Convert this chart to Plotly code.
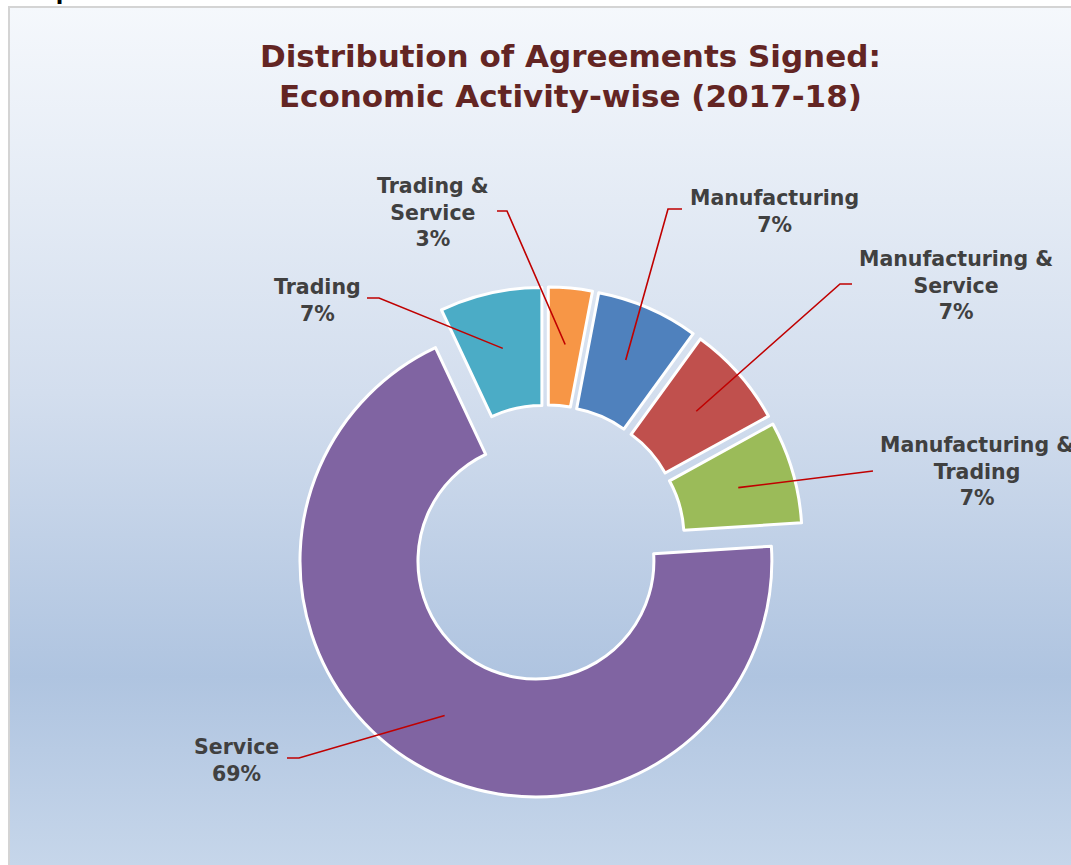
import base64
import math
import plotly.graph_objects as go

# ---------------- data ----------------
categories = ["Trading & Service", "Manufacturing", "Manufacturing & Service",
              "Manufacturing & Trading", "Service", "Trading"]
shares = [3, 7, 7, 7, 69, 7]
label_text = ["Trading &<br>Service<br>3%", "Manufacturing<br>7%",
              "Manufacturing &<br>Service<br>7%", "Manufacturing &<br>Trading<br>7%",
              "Service<br>69%", "Trading<br>7%"]
title_text = "Distribution of Agreements Signed:<br>Economic Activity-wise (2017-18)"

# ---------------- style / layout ----------------
W, H = 1071, 865
colors = ["#f79646", "#4f81bd", "#c0504d", "#9bbb59", "#8064a2", "#4bacc6"]
PULL = 0.087
HOLE = 0.5
DOM_X = [0.2707, 0.7496]
DOM_Y = [0.0752, 0.6684]
LEADER_R = 0.76  # fraction of outer radius where leader lines end

# label centre positions and leader elbows (pixels)
label_pos = [(433, 213), (774, 211), (956, 285), (977, 471), (236, 760), (317, 300)]
elbows = [[(497, 211), (507, 211)], [(682, 209), (668, 209)], [(852, 284), (840, 284)],
          [(873, 471)], [(287, 758), (299, 758)], [(367, 298), (379, 298)]]


def px(x):
    return x / W


def py(y):
    return 1 - y / H


fig = go.Figure(go.Pie(
    labels=categories, values=shares, sort=False, direction="clockwise", rotation=0,
    hole=HOLE, pull=[PULL] * len(shares), textinfo="none", showlegend=False,
    marker=dict(colors=colors, line=dict(color="white", width=3)),
    domain=dict(x=DOM_X, y=DOM_Y),
))

# geometry from plotly's pie layout rules
cx = W * (DOM_X[0] + DOM_X[1]) / 2
cy = H * (1 - (DOM_Y[0] + DOM_Y[1]) / 2)
R = min(W * (DOM_X[1] - DOM_X[0]), H * (DOM_Y[1] - DOM_Y[0])) / (2 * (1 + PULL))

total = sum(shares)
cum = 0
shapes = []
annotations = []
for i, v in enumerate(shares):
    mid = (cum + v / 2) / total * 2 * math.pi
    cum += v
    dx, dy = math.sin(mid), -math.cos(mid)
    ccx, ccy = cx + dx * PULL * R, cy + dy * PULL * R
    ex, ey = ccx + dx * LEADER_R * R, ccy + dy * LEADER_R * R
    pts = elbows[i] + [(ex, ey)]
    path = "M " + " L ".join(f"{px(a):.5f},{py(b):.5f}" for a, b in pts)
    shapes.append(dict(type="path", path=path, xref="paper", yref="paper",
                       line=dict(color="#c00000", width=1.6), layer="above"))
    lx, ly = label_pos[i]
    annotations.append(dict(text=f"<b>{label_text[i]}</b>", x=px(lx), y=py(ly),
                            xref="paper", yref="paper", xanchor="center", yanchor="middle",
                            showarrow=False, align="center",
                            font=dict(family="DejaVu Sans", size=20.5, color="#404040")))

annotations.append(dict(text=f"<b>{title_text}</b>", x=px(570), y=py(76), xref="paper",
                        yref="paper", xanchor="center", yanchor="middle", showarrow=False,
                        align="center",
                        font=dict(family="DejaVu Sans", size=31, color="#632523")))
annotations.append(dict(text="<b>Graph 10</b>", x=px(10), y=py(-8), xref="paper",
                        yref="paper", xanchor="left", yanchor="middle", showarrow=False,
                        font=dict(family="DejaVu Sans", size=22, color="#000000")))

# chart-area frame
shapes.insert(0, dict(type="rect", xref="paper", yref="paper", x0=px(9), y0=py(7),
                      x1=px(W + 10), y1=py(H + 10), line=dict(color="#d4d4d4", width=2),
                      fillcolor="rgba(0,0,0,0)", layer="below"))

svg = ('<svg xmlns="http://www.w3.org/2000/svg" width="100" height="100" '
       'preserveAspectRatio="none"><defs><linearGradient id="g" x1="0" y1="0" x2="0" y2="1">'
       '<stop offset="0" stop-color="#f5f8fc"/>'
       '<stop offset="0.45" stop-color="#d3deee"/>'
       '<stop offset="0.78" stop-color="#afc4e0"/>'
       '<stop offset="1" stop-color="#c6d6ea"/>'
       '</linearGradient></defs><rect width="100" height="100" fill="url(#g)"/></svg>')
src = "data:image/svg+xml;base64," + base64.b64encode(svg.encode()).decode()

fig.update_layout(
    width=W, height=H, margin=dict(l=0, r=0, t=0, b=0),
    paper_bgcolor="white", plot_bgcolor="white",
    shapes=shapes, annotations=annotations,
    images=[dict(source=src, xref="paper", yref="paper", x=px(9), y=py(7),
                 sizex=1 - px(9), sizey=py(7), sizing="stretch", layer="below",
                 xanchor="left", yanchor="top")],
)

fig.write_html("out.html", config={"displayModeBar": False},
               post_script="document.body.style.margin='0';document.body.style.overflow='hidden';")
